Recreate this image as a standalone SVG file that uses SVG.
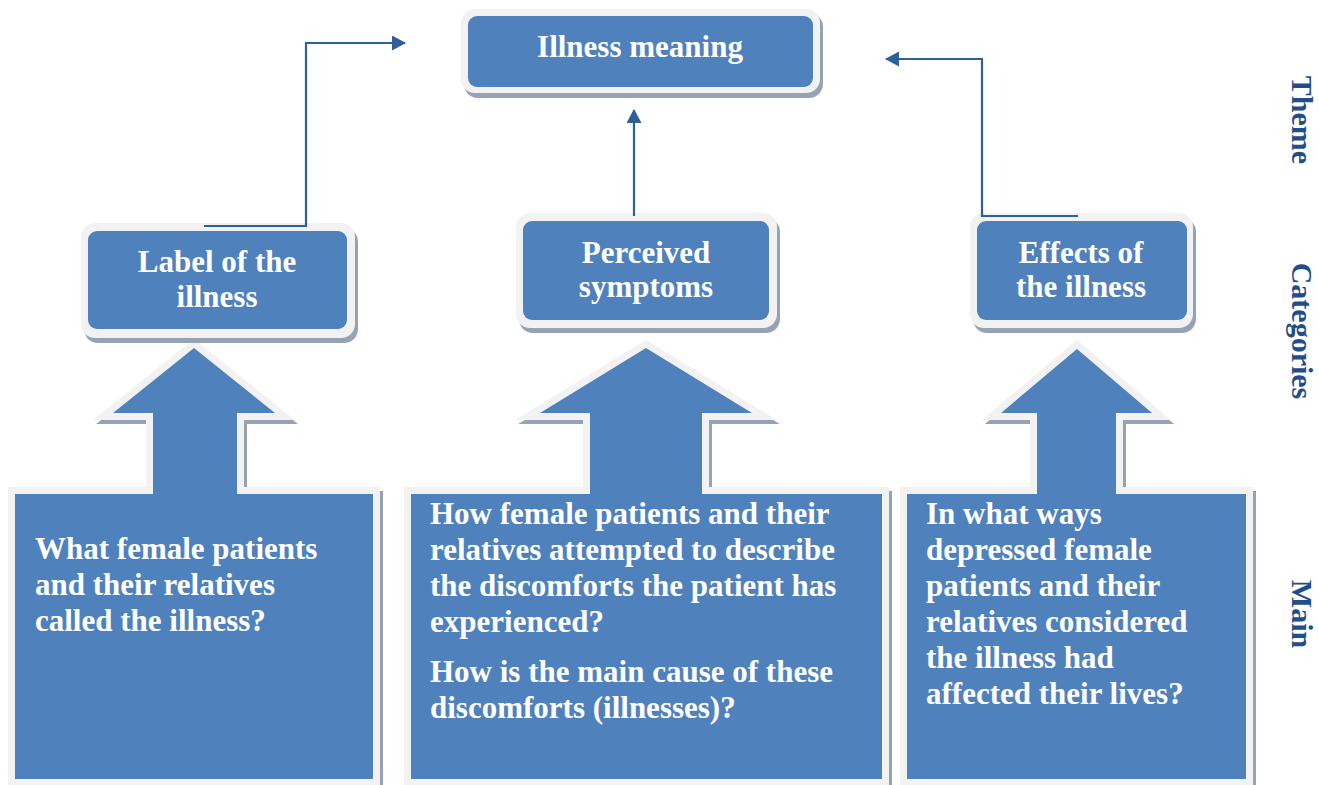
<svg xmlns="http://www.w3.org/2000/svg" width="1319" height="785" viewBox="0 0 1319 785">
<defs>
<style>
.sh{fill:#97a3b4}
.rim{fill:#f2f2f2}
.blue{fill:#4f81bd}
.ash{fill:#97a3b4;stroke:#97a3b4;stroke-width:14;stroke-linejoin:miter;stroke-miterlimit:4}
.arim{fill:#f2f2f2;stroke:#f2f2f2;stroke-width:14;stroke-linejoin:miter;stroke-miterlimit:4}
.t{font-family:"Liberation Serif","Times New Roman",serif;font-weight:bold;font-size:31px;fill:#ffffff}
.tc{text-anchor:middle}
.side{font-family:"Liberation Serif","Times New Roman",serif;font-weight:bold;font-size:30px;fill:#1f4e89;text-anchor:middle}
.conn{fill:none;stroke:#2e5f99;stroke-width:2.2}
</style>
<marker id="ah" markerWidth="14" markerHeight="16" refX="13" refY="7.5" orient="auto" markerUnits="userSpaceOnUse">
<path d="M0,0 L14,7.5 L0,15 Z" fill="#2e5f99"/>
</marker>
</defs>
<rect width="1319" height="785" fill="#ffffff"/>

<g id="arrow-left">
<path class="ash" transform="translate(3,4)" d="M15,494 H153 V413 H113 L194,348 L275,413 H237 V494 H373 V779 H15 Z"/>
<path class="arim" d="M15,494 H153 V413 H113 L194,348 L275,413 H237 V494 H373 V779 H15 Z"/>
<path class="blue" d="M15,494 H153 V413 H113 L194,348 L275,413 H237 V494 H373 V779 H15 Z"/>
<text class="t" x="35"><tspan x="35" y="559">What female patients</tspan><tspan x="35" y="595">and their relatives</tspan><tspan x="35" y="631">called the illness?</tspan></text>
</g>

<g id="arrow-middle">
<path class="ash" transform="translate(3,4)" d="M411,494 H590 V413 H540 L646,348 L752,413 H702 V494 H882 V779 H411 Z"/>
<path class="arim" d="M411,494 H590 V413 H540 L646,348 L752,413 H702 V494 H882 V779 H411 Z"/>
<path class="blue" d="M411,494 H590 V413 H540 L646,348 L752,413 H702 V494 H882 V779 H411 Z"/>
<text class="t"><tspan x="430" y="524">How female patients and their</tspan><tspan x="430" y="560">relatives attempted to describe</tspan><tspan x="430" y="596">the discomforts the patient has</tspan><tspan x="430" y="632">experienced?</tspan><tspan x="430" y="682">How is the main cause of these</tspan><tspan x="430" y="718">discomforts (illnesses)?</tspan></text>
</g>

<g id="arrow-right">
<path class="ash" transform="translate(3,4)" d="M907,494 H1037 V413 H1001 L1077,349 L1152,413 H1116 V494 H1246 V779 H907 Z"/>
<path class="arim" d="M907,494 H1037 V413 H1001 L1077,349 L1152,413 H1116 V494 H1246 V779 H907 Z"/>
<path class="blue" d="M907,494 H1037 V413 H1001 L1077,349 L1152,413 H1116 V494 H1246 V779 H907 Z"/>
<text class="t"><tspan x="926" y="524">In what ways</tspan><tspan x="926" y="560">depressed female</tspan><tspan x="926" y="596">patients and their</tspan><tspan x="926" y="632">relatives considered</tspan><tspan x="926" y="668">the illness had</tspan><tspan x="926" y="704">affected their lives?</tspan></text>
</g>

<g id="node-illness-meaning">
<rect class="sh" x="464" y="13" width="359" height="85" rx="14"/>
<rect class="rim" x="461" y="9" width="359" height="84" rx="14"/>
<rect class="blue" x="468" y="16" width="345" height="71" rx="9"/>
<text class="t tc" x="640" y="57">Illness meaning</text>
</g>

<g id="node-label">
<rect class="sh" x="84" y="228" width="274" height="115" rx="14"/>
<rect class="rim" x="81" y="223" width="274" height="115" rx="14"/>
<rect class="blue" x="88" y="231" width="259" height="98" rx="9"/>
<text class="t tc"><tspan x="217" y="272">Label of the</tspan><tspan x="217" y="307">illness</tspan></text>
</g>

<g id="node-perceived">
<rect class="sh" x="519" y="218" width="261" height="115" rx="14"/>
<rect class="rim" x="516" y="213" width="261" height="115" rx="14"/>
<rect class="blue" x="523" y="221" width="246" height="99" rx="9"/>
<text class="t tc"><tspan x="646" y="263">Perceived</tspan><tspan x="646" y="297">symptoms</tspan></text>
</g>

<g id="node-effects">
<rect class="sh" x="973" y="218" width="223" height="115" rx="14"/>
<rect class="rim" x="970" y="213" width="223" height="115" rx="14"/>
<rect class="blue" x="977" y="221" width="210" height="99" rx="9"/>
<text class="t tc"><tspan x="1081" y="263">Effects of</tspan><tspan x="1081" y="297">the illness</tspan></text>
</g>

<g id="connectors">
<path class="conn" d="M204,226 H306 V43 H405" marker-end="url(#ah)"/>
<path class="conn" d="M634,216 V110" marker-end="url(#ah)"/>
<path class="conn" d="M1078,216 H982 V59 H886" marker-end="url(#ah)"/>
</g>

<g id="side-labels">
<text class="side" transform="translate(1292,120) rotate(90)">Theme</text>
<text class="side" transform="translate(1292,331) rotate(90)">Categories</text>
<text class="side" transform="translate(1292,614) rotate(90)">Main</text>
</g>
</svg>
